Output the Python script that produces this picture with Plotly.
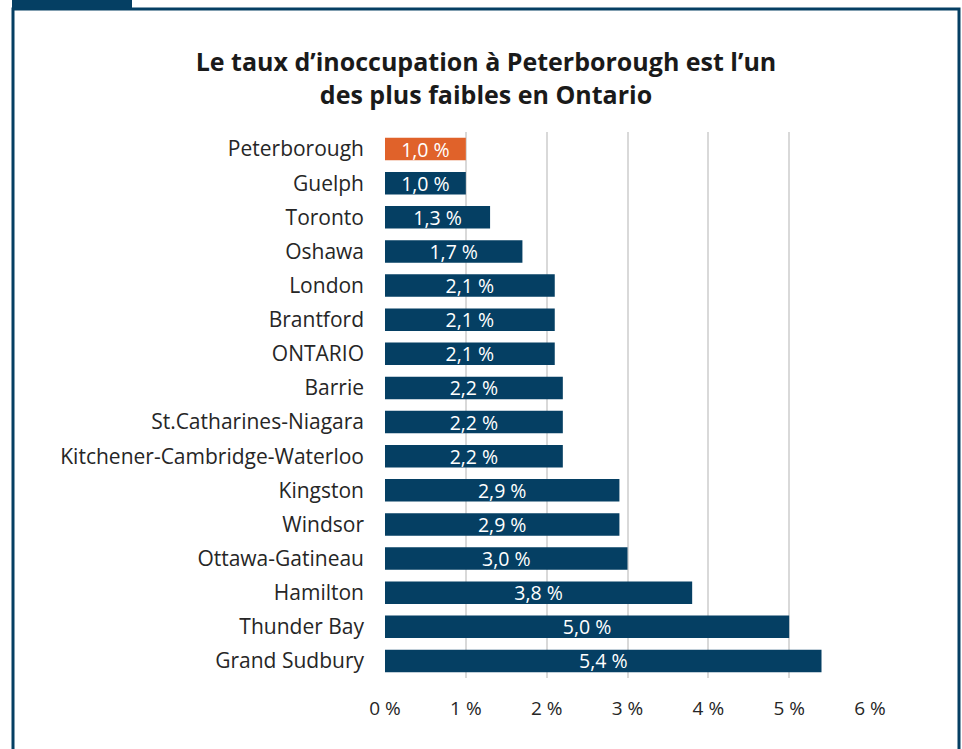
import plotly.graph_objects as go

categories = ["Peterborough", "Guelph", "Toronto", "Oshawa", "London", "Brantford", "ONTARIO",
              "Barrie", "St.Catharines-Niagara", "Kitchener-Cambridge-Waterloo", "Kingston",
              "Windsor", "Ottawa-Gatineau", "Hamilton", "Thunder Bay", "Grand Sudbury"]
values = [1.0, 1.0, 1.3, 1.7, 2.1, 2.1, 2.1, 2.2, 2.2, 2.2, 2.9, 2.9, 3.0, 3.8, 5.0, 5.4]
tick_vals = [0, 1, 2, 3, 4, 5, 6]
tick_text = ["0 %", "1 %", "2 %", "3 %", "4 %", "5 %", "6 %"]
title_text = "Le taux d’inoccupation à Peterborough est l’un<br>des plus faibles en Ontario"

NAVY = "#053F63"
ORANGE = "#E0622A"
colors = [ORANGE if c == "Peterborough" else NAVY for c in categories]
labels = [f"{v:.1f} %".replace(".", ",") for v in values]

W, H = 962, 749
FONT = "'Open Sans', Lato, sans-serif"

fig = go.Figure(go.Bar(
    x=values, y=categories, orientation="h",
    marker=dict(color=colors, line=dict(width=0)),
    width=0.66,
    text=labels, textposition="inside", insidetextanchor="middle",
    constraintext="none",
    textfont=dict(color="white", size=19.5, family=FONT),
    hoverinfo="skip",
))

def px_x(p):
    return p / W

def px_y(p):
    return 1 - p / H

fig.update_layout(
    width=W, height=H,
    margin=dict(l=0, r=0, t=0, b=0),
    paper_bgcolor="white", plot_bgcolor="white",
    showlegend=False,
    font=dict(family=FONT, color="#262626", size=21),
    title=dict(text=title_text, x=px_x(486), xanchor="center", y=px_y(71), yanchor="middle",
               font=dict(size=25, color="#1a1a1a", family=FONT, weight="bold")),
    xaxis=dict(domain=[px_x(385), px_x(870)], range=[0, 6], tickvals=tick_vals, ticktext=tick_text,
               showgrid=True, gridcolor="#D9D9D9", gridwidth=2, zeroline=False, showline=False,
               automargin=False,
               ticklabelstandoff=17, tickfont=dict(size=19, color="#262626"), fixedrange=True),
    yaxis=dict(domain=[px_y(678), px_y(132)], autorange="reversed", showgrid=False,
               automargin=False,
               ticklabelstandoff=20, tickfont=dict(size=21, color="#262626"), showline=False,
               zeroline=False, fixedrange=True),
    bargap=0.34,
    shapes=[
        dict(type="rect", xref="paper", yref="paper", x0=px_x(13), x1=px_x(959), y0=px_y(760), y1=px_y(9),
             line=dict(color=NAVY, width=3), fillcolor="rgba(0,0,0,0)", layer="below"),
        dict(type="rect", xref="paper", yref="paper", x0=px_x(12), x1=px_x(132), y0=px_y(10), y1=px_y(-5),
             line=dict(width=0), fillcolor=NAVY, layer="below"),
    ],
)

fig.write_html("out.html", config={"displayModeBar": False},
               post_script="document.body.style.margin='0';document.body.style.overflow='hidden';")
